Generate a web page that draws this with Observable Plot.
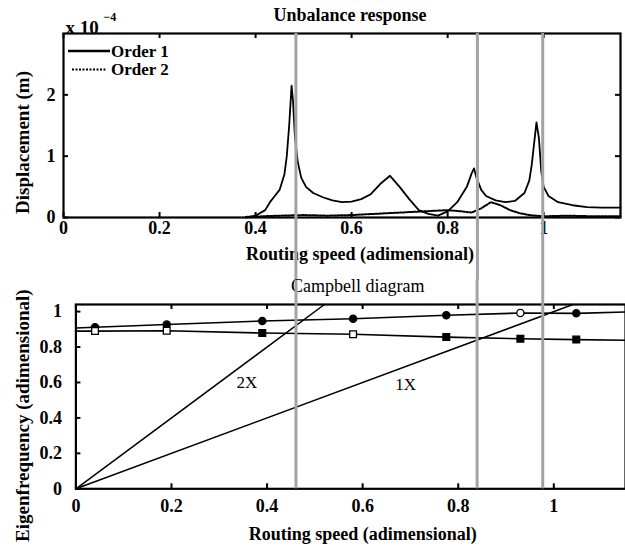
<!DOCTYPE html>
<html><head><meta charset="utf-8">
<script src="https://cdn.jsdelivr.net/npm/d3@7"></script>
<script src="https://cdn.jsdelivr.net/npm/@observablehq/plot@0.6"></script>
<style>
body{margin:0;background:#fff;}
#wrap{position:relative;width:625px;height:550px;overflow:hidden;font-family:"Liberation Serif",serif;background:#fff;}
#wrap > svg, #wrap > div{position:absolute;left:0;}
</style></head><body><div id="wrap"></div>
<script>
// ---------- Data: Unbalance response (x 1e-4 m) ----------
const order1Speed = [0.38,0.40,0.42,0.43,0.44,0.45,0.46,0.465,0.47,0.475,0.478,0.482,0.488,0.495,0.505,0.52,0.54,0.56,0.58,0.60,0.62,0.64,0.66,0.68,0.70,0.72,0.74,0.76,0.78,0.80,0.82,0.84,0.85,0.855,0.86,0.87,0.88,0.90,0.92,0.94,0.96,0.97,0.975,0.98,0.985,0.99,0.995,1.00,1.01,1.03,1.06,1.09,1.12,1.16];
const order1Disp  = [0,0.03,0.12,0.25,0.35,0.45,0.70,1.0,1.5,2.15,1.9,1.3,0.9,0.65,0.5,0.4,0.33,0.28,0.25,0.26,0.30,0.38,0.55,0.68,0.50,0.30,0.12,0.06,0.03,0.10,0.25,0.50,0.72,0.80,0.65,0.45,0.35,0.28,0.25,0.27,0.40,0.60,0.85,1.2,1.55,1.3,0.75,0.5,0.35,0.25,0.20,0.17,0.16,0.16];
const order2Speed = [0.38,0.45,0.50,0.55,0.60,0.65,0.70,0.75,0.80,0.83,0.85,0.87,0.89,0.91,0.93,0.95,0.97,1.00,1.05,1.10,1.16];
const order2Disp  = [0.01,0.03,0.04,0.03,0.04,0.06,0.08,0.10,0.12,0.10,0.08,0.15,0.25,0.20,0.12,0.07,0.04,0.02,0.03,0.02,0.02];
const topXTicks = [0,0.2,0.4,0.6,0.8,1];
const topYTicks = [0,1,2];
const topCritical = [0.484,0.862,0.998];

// ---------- Data: Campbell diagram ----------
const modeSpeed = [0,0.04,0.19,0.39,0.58,0.775,0.93,1.047,1.15];
const modeUpper = [0.907,0.912,0.927,0.947,0.960,0.979,0.992,0.99,0.998];
const modeLower = [0.89,0.89,0.892,0.879,0.872,0.856,0.847,0.842,0.838];
const markerSpeed = [0.04,0.19,0.39,0.58,0.775,0.93,1.047];
const upperFilled = [true,true,true,true,true,false,true];
const lowerFilled = [false,false,true,false,true,true,true];
const line1XSpeed = [0,1.04]; const line1XFreq = [0,1.04];
const line2XSpeed = [0,0.52]; const line2XFreq = [0,1.04];
const lineLabels = [{t:"2X", x:0.358, y:0.60},{t:"1X", x:0.69, y:0.59}];
const botXTicks = [0,0.2,0.4,0.6,0.8,1];
const botYTicks = [0,0.2,0.4,0.6,0.8,1];
const botCritical = [0.4605,0.8395,0.9768];

const order1 = order1Speed.map((x,i)=>({x, y:order1Disp[i]}));
const order2 = order2Speed.map((x,i)=>({x, y:order2Disp[i]}));
const upper = modeSpeed.map((x,i)=>({x, y:modeUpper[i]}));
const lower = modeSpeed.map((x,i)=>({x, y:modeLower[i]}));
const upperMarks = markerSpeed.map((x,i)=>({x, y:modeUpper[modeSpeed.indexOf(x)], f:upperFilled[i]}));
const lowerMarks = markerSpeed.map((x,i)=>({x, y:modeLower[modeSpeed.indexOf(x)], f:lowerFilled[i]}));
const l1 = line1XSpeed.map((x,i)=>({x, y:line1XFreq[i]}));
const l2 = line2XSpeed.map((x,i)=>({x, y:line2XFreq[i]}));

const FONT = "Liberation Serif";
const GRAY = "#a3a3a3";
const TICK = 5; // px, inward tick length

// inward ticks on all requested sides, lengths converted from px to data units
function inwardTicks(xt, yt, xmax, ymax, xUnit, yUnit, sides) {
  const lx = TICK / xUnit, ly = TICK / yUnit, o = {stroke:"black", strokeWidth:2};
  const m = [];
  if (sides.includes("b")) m.push(Plot.ruleX(xt, {x:d=>d, y1:0, y2:ly, ...o}));
  if (sides.includes("t")) m.push(Plot.ruleX(xt, {x:d=>d, y1:ymax, y2:ymax-ly, ...o}));
  if (sides.includes("l")) m.push(Plot.ruleY(yt, {y:d=>d, x1:0, x2:lx, ...o}));
  if (sides.includes("r")) m.push(Plot.ruleY(yt, {y:d=>d, x1:xmax, x2:xmax-lx, ...o}));
  return m;
}

// ---------- Top plot ----------
const T = {w:625, h:280, mt:33, mb:63, ml:63, mr:5, xmax:1.16, ymax:3};
const tUnit = (T.h - T.mt - T.mb) / T.ymax;
const tXUnit = (T.w - T.ml - T.mr) / T.xmax;
const tBelow = -(T.mb / tUnit);
const topPlot = Plot.plot({
  width: T.w, height: T.h,
  marginTop: T.mt, marginBottom: T.mb, marginLeft: T.ml, marginRight: T.mr,
  x: {domain: [0, T.xmax]}, y: {domain: [0, T.ymax]},
  style: {fontFamily: FONT, fontSize: "18px", fontWeight: "bold", color: "black", background: "transparent", overflow: "visible"},
  marks: [
    Plot.line(order2, {x:"x", y:"y", stroke:"black", strokeWidth:2, strokeDasharray:"2,1.5"}),
    Plot.line(order1, {x:"x", y:"y", stroke:"black", strokeWidth:1.8}),
    ...inwardTicks(topXTicks, topYTicks, T.xmax, T.ymax, tXUnit, tUnit, "btlr"),
    Plot.frame({stroke:"black", strokeWidth:2.2}),
    Plot.axisX(topXTicks, {anchor:"bottom", tickSize:0, tickPadding:4, tickFormat:d=>String(d), label:null}),
    Plot.axisY(topYTicks, {anchor:"left", tickSize:0, tickPadding:8, tickFormat:d=>String(d), label:null}),
    Plot.text(["Unbalance response"], {frameAnchor:"top", textAnchor:"middle", dx:8, dy:-25, fontSize:18, fontWeight:"bold"}),
    Plot.text(["Routing speed (adimensional)"], {frameAnchor:"bottom", textAnchor:"middle", dx:18, dy:42, fontSize:18, fontWeight:"bold"}),
    Plot.text(["Displacement (m)"], {frameAnchor:"left", textAnchor:"middle", rotate:-90, dx:-41, dy:17, fontSize:19, fontWeight:"bold"}),
    Plot.text(["x 10"], {frameAnchor:"top-left", textAnchor:"start", dx:2, dy:-13, fontSize:19, fontWeight:"bold"}),
    Plot.text(["\u22124"], {frameAnchor:"top-left", textAnchor:"start", dx:40, dy:-21, fontSize:12, fontWeight:"bold"}),
    Plot.ruleX(topCritical, {x:d=>d, y1:T.ymax, y2:tBelow, stroke:GRAY, strokeWidth:3})
  ]
});

// ---------- Bottom plot ----------
const B = {w:625, h:270, mt:24, mb:61.7, ml:75.4, mr:0, xmax:1.15, ymax:1.04};
const bUnit = (B.h - B.mt - B.mb) / B.ymax;
const bXUnit = (B.w - B.ml - B.mr) / B.xmax;
const bAbove = B.ymax + B.mt / bUnit;
const botPlot = Plot.plot({
  width: B.w, height: B.h,
  marginTop: B.mt, marginBottom: B.mb, marginLeft: B.ml, marginRight: B.mr,
  x: {domain: [0, B.xmax]}, y: {domain: [0, B.ymax]},
  style: {fontFamily: FONT, fontSize: "18px", fontWeight: "bold", color: "black", background: "transparent", overflow: "visible"},
  marks: [
    Plot.line(l1, {x:"x", y:"y", stroke:"black", strokeWidth:1.5}),
    Plot.line(l2, {x:"x", y:"y", stroke:"black", strokeWidth:1.5}),
    Plot.line(upper, {x:"x", y:"y", stroke:"black", strokeWidth:1.6}),
    Plot.line(lower, {x:"x", y:"y", stroke:"black", strokeWidth:1.6}),
    Plot.dot(upperMarks, {x:"x", y:"y", symbol:"circle", r:3.6, stroke:"black", strokeWidth:1.3, fill:d=>d.f?"black":"white"}),
    Plot.dot(lowerMarks, {x:"x", y:"y", symbol:"square", r:3.8, stroke:"black", strokeWidth:1.3, fill:d=>d.f?"black":"white"}),
    Plot.text(lineLabels, {x:"x", y:"y", text:"t", fontSize:17, fontWeight:"normal"}),
    ...inwardTicks(botXTicks, botYTicks, B.xmax, B.ymax, bXUnit, bUnit, "btl"),
    Plot.frame({stroke:"black", strokeWidth:2.2}),
    Plot.axisX(botXTicks, {anchor:"bottom", tickSize:0, tickPadding:10, tickFormat:d=>String(d), label:null}),
    Plot.axisY(botYTicks, {anchor:"left", tickSize:0, tickPadding:14, tickFormat:d=>String(d), label:null}),
    Plot.text(["Campbell diagram"], {frameAnchor:"top", textAnchor:"middle", dx:7, dy:-25, fontSize:18, fontWeight:"normal"}),
    Plot.text(["Routing speed (adimensional)"], {frameAnchor:"bottom", textAnchor:"middle", dx:12, dy:51, fontSize:18, fontWeight:"bold"}),
    Plot.text(["Eigenfrequency (adimensional)"], {frameAnchor:"left", textAnchor:"middle", rotate:-90, dx:-53, dy:19, fontSize:19, fontWeight:"bold"}),
    Plot.ruleX(botCritical, {x:d=>d, y1:0, y2:bAbove, stroke:GRAY, strokeWidth:3})
  ]
});

const wrap = document.getElementById("wrap");
topPlot.style.top = "0px";
botPlot.style.top = T.h + "px";
wrap.appendChild(topPlot);
wrap.appendChild(botPlot);

// Legend (inside top-left of the upper axes)
const legendItems = [{label:"Order 1", dash:null}, {label:"Order 2", dash:"2,1.5"}];
const ns = "http://www.w3.org/2000/svg";
const leg = document.createElementNS(ns, "svg");
leg.setAttribute("width", 140); leg.setAttribute("height", 45);
leg.style.position = "absolute"; leg.style.left = "66px"; leg.style.top = "38px";
legendItems.forEach((it, i) => {
  const y = 13 + i * 18.5;
  const ln = document.createElementNS(ns, "line");
  ln.setAttribute("x1", it.dash ? 6 : 2); ln.setAttribute("x2", it.dash ? 41 : 44);
  ln.setAttribute("y1", y); ln.setAttribute("y2", y);
  ln.setAttribute("stroke", "black"); ln.setAttribute("stroke-width", it.dash ? 2 : 2.6);
  if (it.dash) ln.setAttribute("stroke-dasharray", it.dash);
  leg.appendChild(ln);
  const tx = document.createElementNS(ns, "text");
  tx.setAttribute("x", 45); tx.setAttribute("y", y); tx.setAttribute("dy", "0.35em");
  tx.setAttribute("font-family", FONT); tx.setAttribute("font-size", 17); tx.setAttribute("font-weight", "bold");
  tx.textContent = it.label;
  leg.appendChild(tx);
});
wrap.appendChild(leg);
</script>
</body></html>
